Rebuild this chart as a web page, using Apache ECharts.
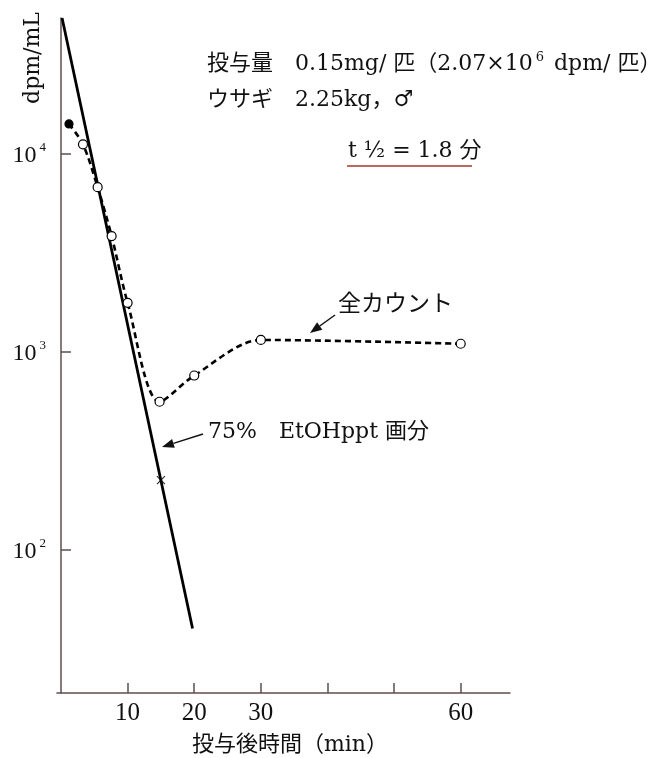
<!DOCTYPE html>
<html>

<head>
    <title></title>
    <meta charset="utf-8">
    <script src="https://cdn.jsdelivr.net/npm/echarts@6/dist/echarts.min.js"></script>
    <style>
        body {
            margin: 0;
            background: #fff;
        }
    </style>
</head>

<body>
    <div id="main" style="width: 654px;height:758px;"></div>
    <script type="text/javascript">
        // 全カウント (dashed line, open circles)
        var countTime = [1.2, 3.3, 5.5, 7.6, 10, 14.8, 20, 30, 60];
        var countValue = [14200, 11200, 6800, 3850, 1770, 560, 760, 1150, 1100];
        // 75% EtOHppt 画分 (solid line)
        var pptTime = [0.16, 19.75];
        var pptValue = [48700, 40];
        var crossTime = [15];
        var crossValue = [225];
        // axis ticks
        var xTickValues = [10, 20, 30, 40, 50, 60];
        var xLabelValues = [10, 20, 30, 60];
        var yTickValues = [100, 1000, 10000];

        var serif = "'Liberation Serif', 'Noto Sans CJK JP', serif";
        var wide = "'DejaVu Serif', 'Noto Sans CJK JP', serif";
        var axisColor = '#5e4f4f';

        function pairs(xs, ys) {
            var out = [];
            for (var i = 0; i < xs.length; i++) {
                out.push([xs[i], ys[i]]);
            }
            return out;
        }

        var countData = pairs(countTime, countValue);
        // first point is drawn filled
        countData[0] = {
            value: countData[0],
            itemStyle: { color: '#000' },
            symbolSize: 8
        };

        // arrow: shaft plus a filled head
        function arrow(x1, y1, x2, y2) {
            var dx = x2 - x1, dy = y2 - y1;
            var len = Math.sqrt(dx * dx + dy * dy);
            var ux = dx / len, uy = dy / len;
            var bx = x2 - 12 * ux, by = y2 - 12 * uy;
            var px = -uy * 4.5, py = ux * 4.5;
            return [{
                type: 'line',
                shape: { x1: x1, y1: y1, x2: bx, y2: by },
                style: { stroke: '#111', lineWidth: 1.5 }
            }, {
                type: 'polygon',
                shape: { points: [[x2, y2], [bx + px, by + py], [bx - px, by - py]] },
                style: { fill: '#111' }
            }];
        }

        var txt = { fontFamily: wide, fontSize: 22, fill: '#111' };

        var graphics = [
            {
                type: 'text', x: 33, y: 58, rotation: Math.PI / 2,
                style: { text: 'dpm/mL', fontFamily: wide, fontSize: 22, fill: '#111', align: 'center', verticalAlign: 'middle' }
            },
            {
                type: 'text', x: 207, y: 64,
                style: {
                    text: '{a|投与量　0.15mg/ 匹（2.07×10}{s|6}{a| dpm/ 匹）}',
                    verticalAlign: 'middle',
                    rich: {
                        a: txt,
                        s: { fontFamily: wide, fontSize: 13, fill: '#111', padding: [0, 3, 12, 3] }
                    }
                }
            },
            {
                type: 'text', x: 207, y: 100,
                style: { text: 'ウサギ　2.25kg，♂', fontFamily: wide, fontSize: 22, fill: '#111', verticalAlign: 'middle' }
            },
            {
                type: 'text', x: 348, y: 151,
                style: { text: 't ½ = 1.8 分', fontFamily: wide, fontSize: 22, fill: '#111', verticalAlign: 'middle' }
            },
            {
                type: 'line',
                shape: { x1: 347, y1: 166, x2: 472, y2: 166 },
                style: { stroke: '#a8352b', lineWidth: 1.5 }
            },
            {
                type: 'text', x: 338, y: 305,
                style: { text: '全カウント', fontFamily: wide, fontSize: 23, fill: '#111', verticalAlign: 'middle' }
            },
            {
                type: 'text', x: 208, y: 432,
                style: { text: '75%　EtOHppt 画分', fontFamily: wide, fontSize: 22, fill: '#111', verticalAlign: 'middle' }
            },
            {
                type: 'text', x: 290, y: 745,
                style: { text: '投与後時間（min）', fontFamily: wide, fontSize: 22, fill: '#111', align: 'center', verticalAlign: 'middle' }
            }
        ].concat(arrow(335, 315, 310, 333)).concat(arrow(203, 434, 162, 447));

        var myChart = echarts.init(document.getElementById('main'));
        var option = {
            backgroundColor: '#fff',
            animation: false,
            grid: {
                left: 57,
                right: 144,
                top: 18,
                bottom: 65,
                containLabel: false,
                outerBoundsMode: 'none'
            },
            xAxis: {
                type: 'value',
                min: -0.6,
                max: 67.4,
                splitLine: { show: false },
                axisLine: { lineStyle: { color: axisColor, width: 1.5 } },
                axisTick: {
                    inside: true,
                    length: 10,
                    customValues: xTickValues,
                    lineStyle: { color: axisColor, width: 1.5 }
                },
                axisLabel: {
                    customValues: xLabelValues,
                    margin: 8,
                    color: '#111',
                    fontFamily: serif,
                    fontSize: 25
                }
            },
            yAxis: {
                type: 'log',
                min: 18.9,
                max: 48700,
                splitLine: { show: false },
                axisLine: { lineStyle: { color: axisColor, width: 1.5 } },
                axisTick: {
                    inside: true,
                    length: 10,
                    customValues: yTickValues,
                    lineStyle: { color: axisColor, width: 1.5 }
                },
                axisLabel: {
                    customValues: yTickValues,
                    margin: 11,
                    formatter: function (v) {
                        return '{b|10}{s|' + Math.round(Math.log10(v)) + '}';
                    },
                    rich: {
                        b: { fontFamily: serif, fontSize: 24, color: '#111', padding: [0, 0, -4, 0] },
                        s: { fontFamily: serif, fontSize: 13, color: '#111', padding: [0, 0, 12, 3] }
                    }
                }
            },
            series: [{
                name: '75% EtOHppt 画分',
                type: 'line',
                data: pairs(pptTime, pptValue),
                showSymbol: false,
                symbol: 'none',
                lineStyle: { color: '#000', width: 2.8 },
                z: 2
            }, {
                name: '×',
                type: 'scatter',
                data: pairs(crossTime, crossValue),
                symbol: 'path://M0,0L10,10M10,0L0,10',
                symbolSize: 8,
                itemStyle: { color: 'none', borderColor: '#000', borderWidth: 1.2 },
                z: 3
            }, {
                name: '全カウント',
                type: 'line',
                data: countData,
                smooth: 0.3,
                symbol: 'circle',
                symbolSize: 9,
                itemStyle: { color: '#fff', borderColor: '#000', borderWidth: 1.2 },
                lineStyle: { color: '#000', width: 2.6, type: [6, 4] },
                z: 4
            }],
            graphic: graphics
        };
        myChart.setOption(option);
    </script>
</body>

</html>
